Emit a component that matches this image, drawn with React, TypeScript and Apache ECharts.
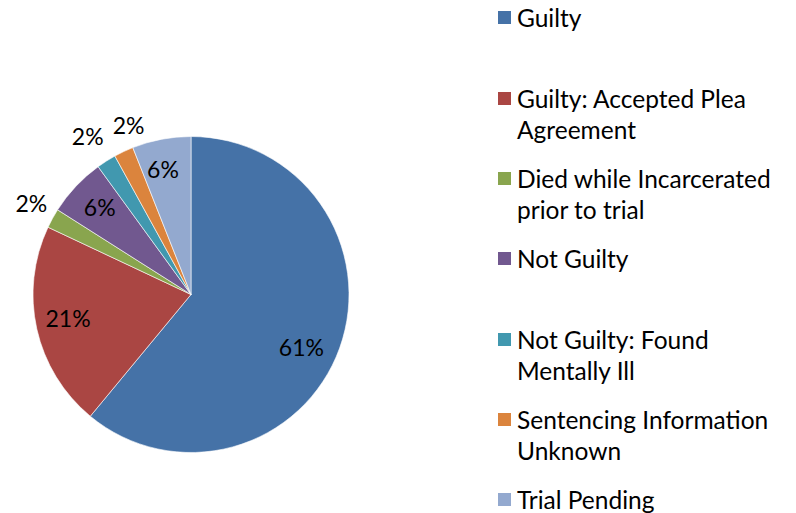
import React, { useEffect, useRef } from "react";
import * as echarts from "echarts";

const categories = [
  "Guilty",
  "Guilty: Accepted Plea Agreement",
  "Died while Incarcerated prior to trial",
  "Not Guilty",
  "Not Guilty: Found Mentally Ill",
  "Sentencing Information Unknown",
  "Trial Pending",
];
const legendLines = [
  "Guilty",
  "Guilty: Accepted Plea\nAgreement",
  "Died while Incarcerated\nprior to trial",
  "Not Guilty",
  "Not Guilty: Found\nMentally Ill",
  "Sentencing Information\nUnknown",
  "Trial Pending",
];
const values = [61, 21, 2, 6, 2, 2, 6];
const colors = ["#4572A7", "#AA4643", "#89A54E", "#71588F", "#4198AF", "#DB843D", "#93A9CF"];
const labelOutside = [false, false, true, false, true, true, false];

const FONT = "Lato";
const legendIconTops = [10, 91, 171, 251, 332, 412, 492];
const labelOffsets = [[-10, 9], [2, -4], [6, 0], [2, 0], [-2, 1], [18, 2], [-4, 0]];

export default function App() {
  const ref = useRef<HTMLDivElement>(null);
  useEffect(() => {
    document.body.style.margin = "0";
    const chart = echarts.init(ref.current!, null, { renderer: "svg" });
    const pct = (p: any) => Math.round(p.percent) + "%";
    const center = [191, 294.5];
    const labelStyle = { color: "#000", fontFamily: FONT, fontSize: 23 };
    const LH = 31;
    const LH1 = 25;

    const legends = categories.map((name, i) => {
      const twoLine = legendLines[i].includes("\n");
      return {
        orient: "vertical",
        left: 496,
        top: legendIconTops[i] - (twoLine ? 1.5 * LH - 7.5 : LH1 / 2 - 7.5),
        padding: 0,
        itemWidth: 15,
        itemHeight: 15,
        icon: "rect",
        selectedMode: false,
        data: [{ name, itemStyle: { color: colors[i] } }],
        formatter: () => (twoLine ? "\n" : "") + legendLines[i],
        textStyle: {
          color: "#000",
          fontFamily: FONT,
          fontSize: 24.5,
          lineHeight: twoLine ? LH : LH1,
        },
      };
    });

    const baseData = categories.map((name, i) => ({ name, value: values[i] }));

    chart.setOption({
      animation: false,
      backgroundColor: "#fff",
      legend: legends,
      series: [
        {
          type: "pie",
          center,
          radius: 158,
          startAngle: 90,
          clockwise: true,
          label: { show: false },
          labelLine: { show: false },
          emphasis: { disabled: true },
          itemStyle: { borderColor: "#ffffff", borderWidth: 0.6 },
          data: categories.map((name, i) => ({
            name,
            value: values[i],
            itemStyle: { color: colors[i] },
          })),
        },
        {
          type: "pie",
          center,
          radius: [0, 250],
          startAngle: 90,
          silent: true,
          avoidLabelOverlap: false,
          emphasis: { disabled: true },
          itemStyle: { color: "rgba(0,0,0,0)" },
          labelLine: { show: false },
          label: { show: true, position: "inside", formatter: pct, ...labelStyle },
          data: baseData.map((d, i) => ({
            ...d,
            label: { show: !labelOutside[i], offset: labelOffsets[i] },
          })),
        },
        {
          type: "pie",
          center,
          radius: [150, 222],
          startAngle: 90,
          silent: true,
          avoidLabelOverlap: false,
          emphasis: { disabled: true },
          itemStyle: { color: "rgba(0,0,0,0)" },
          labelLine: { show: false },
          label: { show: true, position: "inside", formatter: pct, ...labelStyle },
          data: baseData.map((d, i) => ({
            ...d,
            label: { show: labelOutside[i], offset: labelOffsets[i] },
          })),
        },
      ],
    });
    return () => chart.dispose();
  }, []);
  return <div ref={ref} style={{ width: 796, height: 513 }} />;
}
